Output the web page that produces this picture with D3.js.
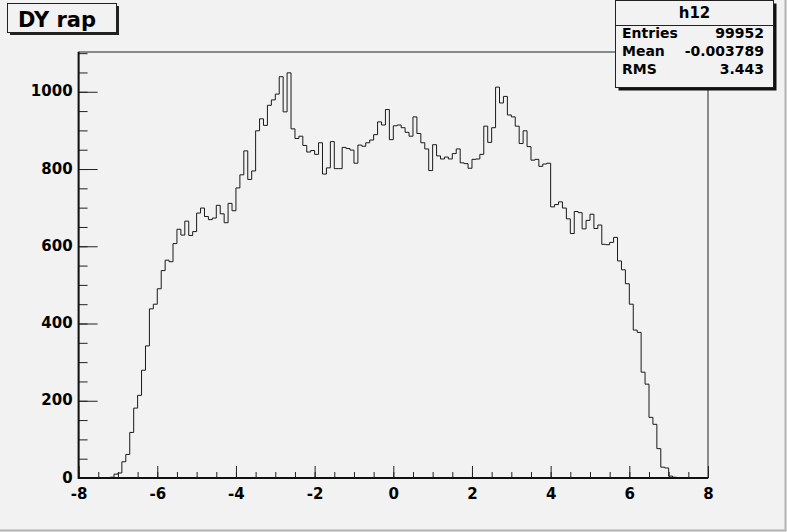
<!DOCTYPE html>
<html>
<head>
<meta charset="utf-8">
<script src="https://cdn.jsdelivr.net/npm/d3@7"></script>
<style>
  body { margin: 0; background: #f2f2f2; }
  svg text { font-family: "DejaVu Sans", sans-serif; font-weight: bold; }
</style>
</head>
<body>
<div class="canvas"></div>
<script>
// histogram h12 : 160 bins between -8 and 8
const xLow = -8
const xHigh = 8
const nBins = 160

const counts = [
  0, 0, 0, 0, 0, 0, 0, 1, 2, 10,
  13, 42, 61, 118, 181, 214, 279, 342, 438, 450,
  490, 537, 564, 560, 607, 644, 629, 665, 628, 638,
  686, 699, 677, 669, 673, 706, 684, 661, 711, 692,
  751, 785, 847, 773, 795, 899, 930, 913, 965, 979,
  994, 1039, 948, 1049, 904, 879, 885, 861, 844, 848,
  838, 868, 787, 803, 871, 801, 801, 856, 853, 849,
  815, 862, 859, 868, 875, 889, 922, 914, 954, 876,
  912, 914, 907, 895, 885, 935, 892, 868, 852, 796,
  863, 834, 826, 831, 826, 840, 852, 816, 814, 802,
  825, 826, 838, 911, 869, 907, 1012, 971, 988, 940,
  935, 911, 866, 899, 858, 823, 825, 807, 813, 815,
  702, 708, 715, 699, 671, 633, 690, 687, 645, 667,
  683, 646, 655, 605, 604, 610, 623, 562, 539, 503,
  450, 383, 377, 274, 243, 157, 139, 76, 28, 26,
  5, 2, 1, 0, 0, 0, 0, 0, 0, 0
]

const xMajor = [-8, -6, -4, -2, 0, 2, 4, 6, 8]
const yMajor = [0, 200, 400, 600, 800, 1000]
const yMax = 1103

const title = "DY rap"
const statsName = "h12"
const statsLabels = ["Entries", "Mean", "RMS"]
const statsValues = ["99952", "-0.003789", "3.443"]

const width = 787
const height = 532
const frameLeft = 78.6
const frameRight = 708
const frameTop = 52
const frameBottom = 478

const svg = d3.select(".canvas").append("svg")
    .attr("width", width)
    .attr("height", height)

svg.append("rect")
    .attr("width", width).attr("height", height)
    .attr("fill", "#f2f2f2")

// canvas border (bottom / right)
svg.append("path")
    .attr("d", `M0,${height - 1.5}H${width - 1.5}V0`)
    .attr("fill", "none")
    .attr("stroke", "#b4b4b4")
    .attr("stroke-width", 2)

const x = d3.scaleLinear().domain([xLow, xHigh]).range([frameLeft, frameRight])
const y = d3.scaleLinear().domain([0, yMax]).range([frameBottom, frameTop])

// frame
svg.append("rect")
    .attr("x", frameLeft).attr("y", frameTop)
    .attr("width", frameRight - frameLeft).attr("height", frameBottom - frameTop)
    .attr("fill", "none")
    .attr("stroke", "#222")
    .attr("stroke-width", 1)

// histogram outline
const binW = (xHigh - xLow) / nBins
let d = `M${x(xLow)},${y(0)}`
counts.forEach(function (c, i) {
    d += `V${y(c)}H${x(xLow + (i + 1) * binW)}`
})
d += `V${y(0)}`
svg.append("path")
    .attr("d", d)
    .attr("fill", "none")
    .attr("stroke", "#1a1a1a")
    .attr("stroke-width", 1)

const plain = v => String(v)   // "-8" with a hyphen, "1000" without comma

// y axis: minor + major ticks pointing into the frame
const yMinor = d3.range(0, yMax, 50)
svg.append("g")
    .attr("transform", `translate(${frameLeft},0)`)
    .call(d3.axisLeft(y).tickValues(yMinor).tickSize(-9).tickFormat(""))
    .call(g => g.select(".domain").remove())
svg.append("g")
    .attr("transform", `translate(${frameLeft},0)`)
    .call(d3.axisLeft(y).tickValues(yMajor).tickSize(-19).tickPadding(6).tickFormat(plain))
    .call(g => g.select(".domain").remove())
    .call(g => g.selectAll("text").attr("font-size", 15).attr("fill", "#000").attr("dy", "0.28em"))

// x axis
const xMinor = d3.range(xLow, xHigh + 0.01, 0.5)
svg.append("g")
    .attr("transform", `translate(0,${frameBottom})`)
    .call(d3.axisBottom(x).tickValues(xMinor).tickSize(-6).tickFormat(""))
    .call(g => g.select(".domain").remove())
svg.append("g")
    .attr("transform", `translate(0,${frameBottom})`)
    .call(d3.axisBottom(x).tickValues(xMajor).tickSize(-12).tickPadding(10).tickFormat(plain))
    .call(g => g.select(".domain").remove())
    .call(g => g.selectAll("text").attr("font-size", 15).attr("fill", "#000"))

svg.selectAll(".tick line").attr("stroke", "#222")

// axis lines
svg.append("path")
    .attr("d", `M${frameLeft},${frameTop}V${frameBottom}H${frameRight}`)
    .attr("fill", "none")
    .attr("stroke", "#111")
    .attr("stroke-width", 2)

// title box
svg.append("rect")
    .attr("x", 10).attr("y", 6).attr("width", 109).attr("height", 29)
    .attr("fill", "#222")
svg.append("rect")
    .attr("x", 7.5).attr("y", 3.5).attr("width", 109).attr("height", 29)
    .attr("fill", "#f2f2f2").attr("stroke", "#222")
svg.append("text")
    .attr("x", 18).attr("y", 27)
    .attr("font-size", 21)
    .text(title)

// stats box
const sx = 615.5, sy = 0.5, sw = 158, sh = 87
svg.append("rect")
    .attr("x", sx + 3).attr("y", sy + 3).attr("width", sw).attr("height", sh)
    .attr("fill", "#111")
svg.append("rect")
    .attr("x", sx).attr("y", sy).attr("width", sw).attr("height", sh)
    .attr("fill", "#f2f2f2").attr("stroke", "#222")
svg.append("line")
    .attr("x1", sx).attr("x2", sx + sw).attr("y1", 25.5).attr("y2", 25.5)
    .attr("stroke", "#222")
svg.append("text")
    .attr("x", sx + sw / 2).attr("y", 18)
    .attr("text-anchor", "middle")
    .attr("font-size", 15)
    .text(statsName)
statsLabels.forEach(function (lab, i) {
    svg.append("text")
        .attr("x", 622).attr("y", 38 + i * 18)
        .attr("font-size", 14)
        .text(lab)
    svg.append("text")
        .attr("x", 764).attr("y", 38 + i * 18)
        .attr("text-anchor", "end")
        .attr("font-size", 14)
        .text(statsValues[i])
})
</script>
</body>
</html>
